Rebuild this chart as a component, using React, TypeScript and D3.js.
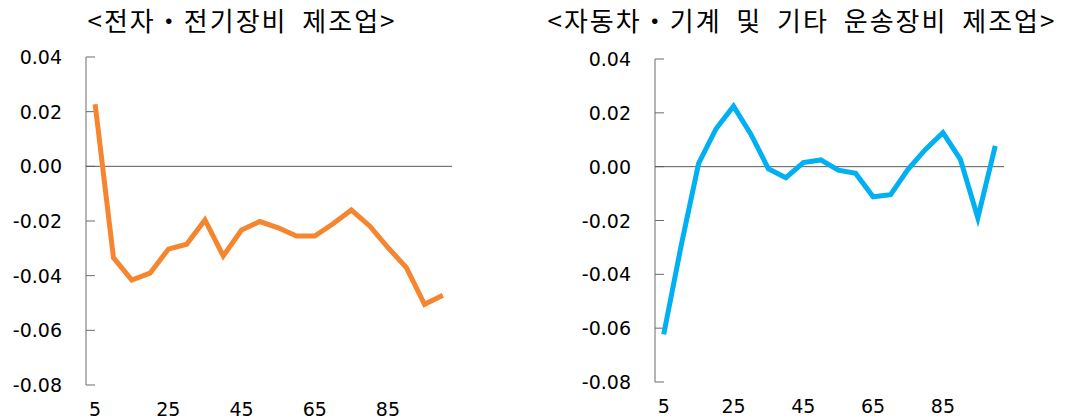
// 두 업종의 분위별 계수 추이 (좌: 전자·전기장비, 우: 자동차·기계 및 기타 운송장비)
import { useRef, useEffect } from 'react'
import * as d3 from 'd3'

const categories = [5, 10, 15, 20, 25, 30, 35, 40, 45, 50, 55, 60, 65, 70, 75, 80, 85, 90, 95, 100]
const xTickLabels = [5, 25, 45, 65, 85]
const yTicks = [0.04, 0.02, 0, -0.02, -0.04, -0.06, -0.08]

const electronics = [
  0.0227, -0.0334, -0.0416, -0.0391, -0.0303, -0.0285, -0.0196, -0.0328, -0.0233, -0.0202,
  -0.0225, -0.0255, -0.0255, -0.0210, -0.0160, -0.0218, -0.0297, -0.0370, -0.0505, -0.0472,
]
const vehicles = [
  -0.0623, -0.0293, 0.0012, 0.0141, 0.0225, 0.0120, -0.0008, -0.0041, 0.0015, 0.0025,
  -0.0013, -0.0025, -0.0112, -0.0104, -0.0010, 0.0064, 0.0126, 0.0027, -0.0190, 0.0077,
]

const titles = ['<전자・전기장비 제조업>', '<자동차・기계 및 기타 운송장비 제조업>']
const colors = ['#F5862F', '#00B0F0']

const fmt = d3.formatLocale({ decimal: '.', thousands: ',', grouping: [3], currency: ['', ''], minus: '-' }).format('.2f')

export default function App() {
  const svgRef = useRef<SVGSVGElement>(null)

  useEffect(() => {
    const svg = d3.select(svgRef.current)
    svg.selectAll('*').remove()

    const panels = [
      { values: electronics, left: 86, right: 452, top: 57, bottom: 385, labelX: 62, titleX: 242 },
      { values: vehicles, left: 655, right: 1004, top: 59, bottom: 382, labelX: 631, titleX: 802 },
    ]

    panels.forEach((p, k) => {
      const x = d3.scaleBand<number>().domain(categories).range([p.left, p.right])
      const cx = (c: number) => (x(c) as number) + x.bandwidth() / 2
      const y = d3.scaleLinear().domain([-0.08, 0.04]).range([p.bottom, p.top])
      const g = svg.append('g')

      // 제목
      g.append('text')
        .attr('x', p.titleX).attr('y', 31)
        .attr('text-anchor', 'middle')
        .attr('font-family', '"Noto Sans CJK KR", sans-serif')
        .attr('font-size', 26)
        .attr('letter-spacing', 2)
        .attr('word-spacing', 7)
        .attr('fill', '#000')
        .text(titles[k])

      // 세로축 + 눈금 (안쪽)
      g.append('line')
        .attr('x1', p.left).attr('x2', p.left)
        .attr('y1', y(0.04)).attr('y2', y(-0.08))
        .attr('stroke', '#6b6b6b').attr('stroke-width', 1)
      g.selectAll('line.tick')
        .data(yTicks)
        .join('line')
        .attr('class', 'tick')
        .attr('x1', p.left).attr('x2', p.left + 9)
        .attr('y1', d => y(d)).attr('y2', d => y(d))
        .attr('stroke', '#6b6b6b').attr('stroke-width', 1)
      g.selectAll('text.ylab')
        .data(yTicks)
        .join('text')
        .attr('class', 'ylab')
        .attr('x', p.labelX)
        .attr('y', d => y(d) + 7)
        .attr('text-anchor', 'end')
        .attr('font-family', '"DejaVu Sans", sans-serif')
        .attr('font-size', 19)
        .attr('fill', '#000')
        .text(d => fmt(d))

      // 0 기준선
      g.append('line')
        .attr('x1', p.left).attr('x2', p.right)
        .attr('y1', y(0)).attr('y2', y(0))
        .attr('stroke', '#595959').attr('stroke-width', 1)

      // 가로축 라벨 (아래쪽)
      g.selectAll('text.xlab')
        .data(xTickLabels)
        .join('text')
        .attr('class', 'xlab')
        .attr('x', d => cx(d))
        .attr('y', y(-0.08) + 31)
        .attr('text-anchor', 'middle')
        .attr('font-family', '"DejaVu Sans", sans-serif')
        .attr('font-size', 19)
        .attr('fill', '#000')
        .text(d => d)

      const line = d3.line<number>()
        .x((d, i) => cx(categories[i]))
        .y(d => y(d))

      g.append('path')
        .datum(p.values)
        .attr('d', line)
        .attr('fill', 'none')
        .attr('stroke', colors[k])
        .attr('stroke-width', 5)
    })
  }, [])

  return (
    <svg
      ref={svgRef}
      width={1066}
      height={420}
      style={{ position: 'absolute', left: 0, top: 0, display: 'block', background: '#fff' }}
    />
  )
}
